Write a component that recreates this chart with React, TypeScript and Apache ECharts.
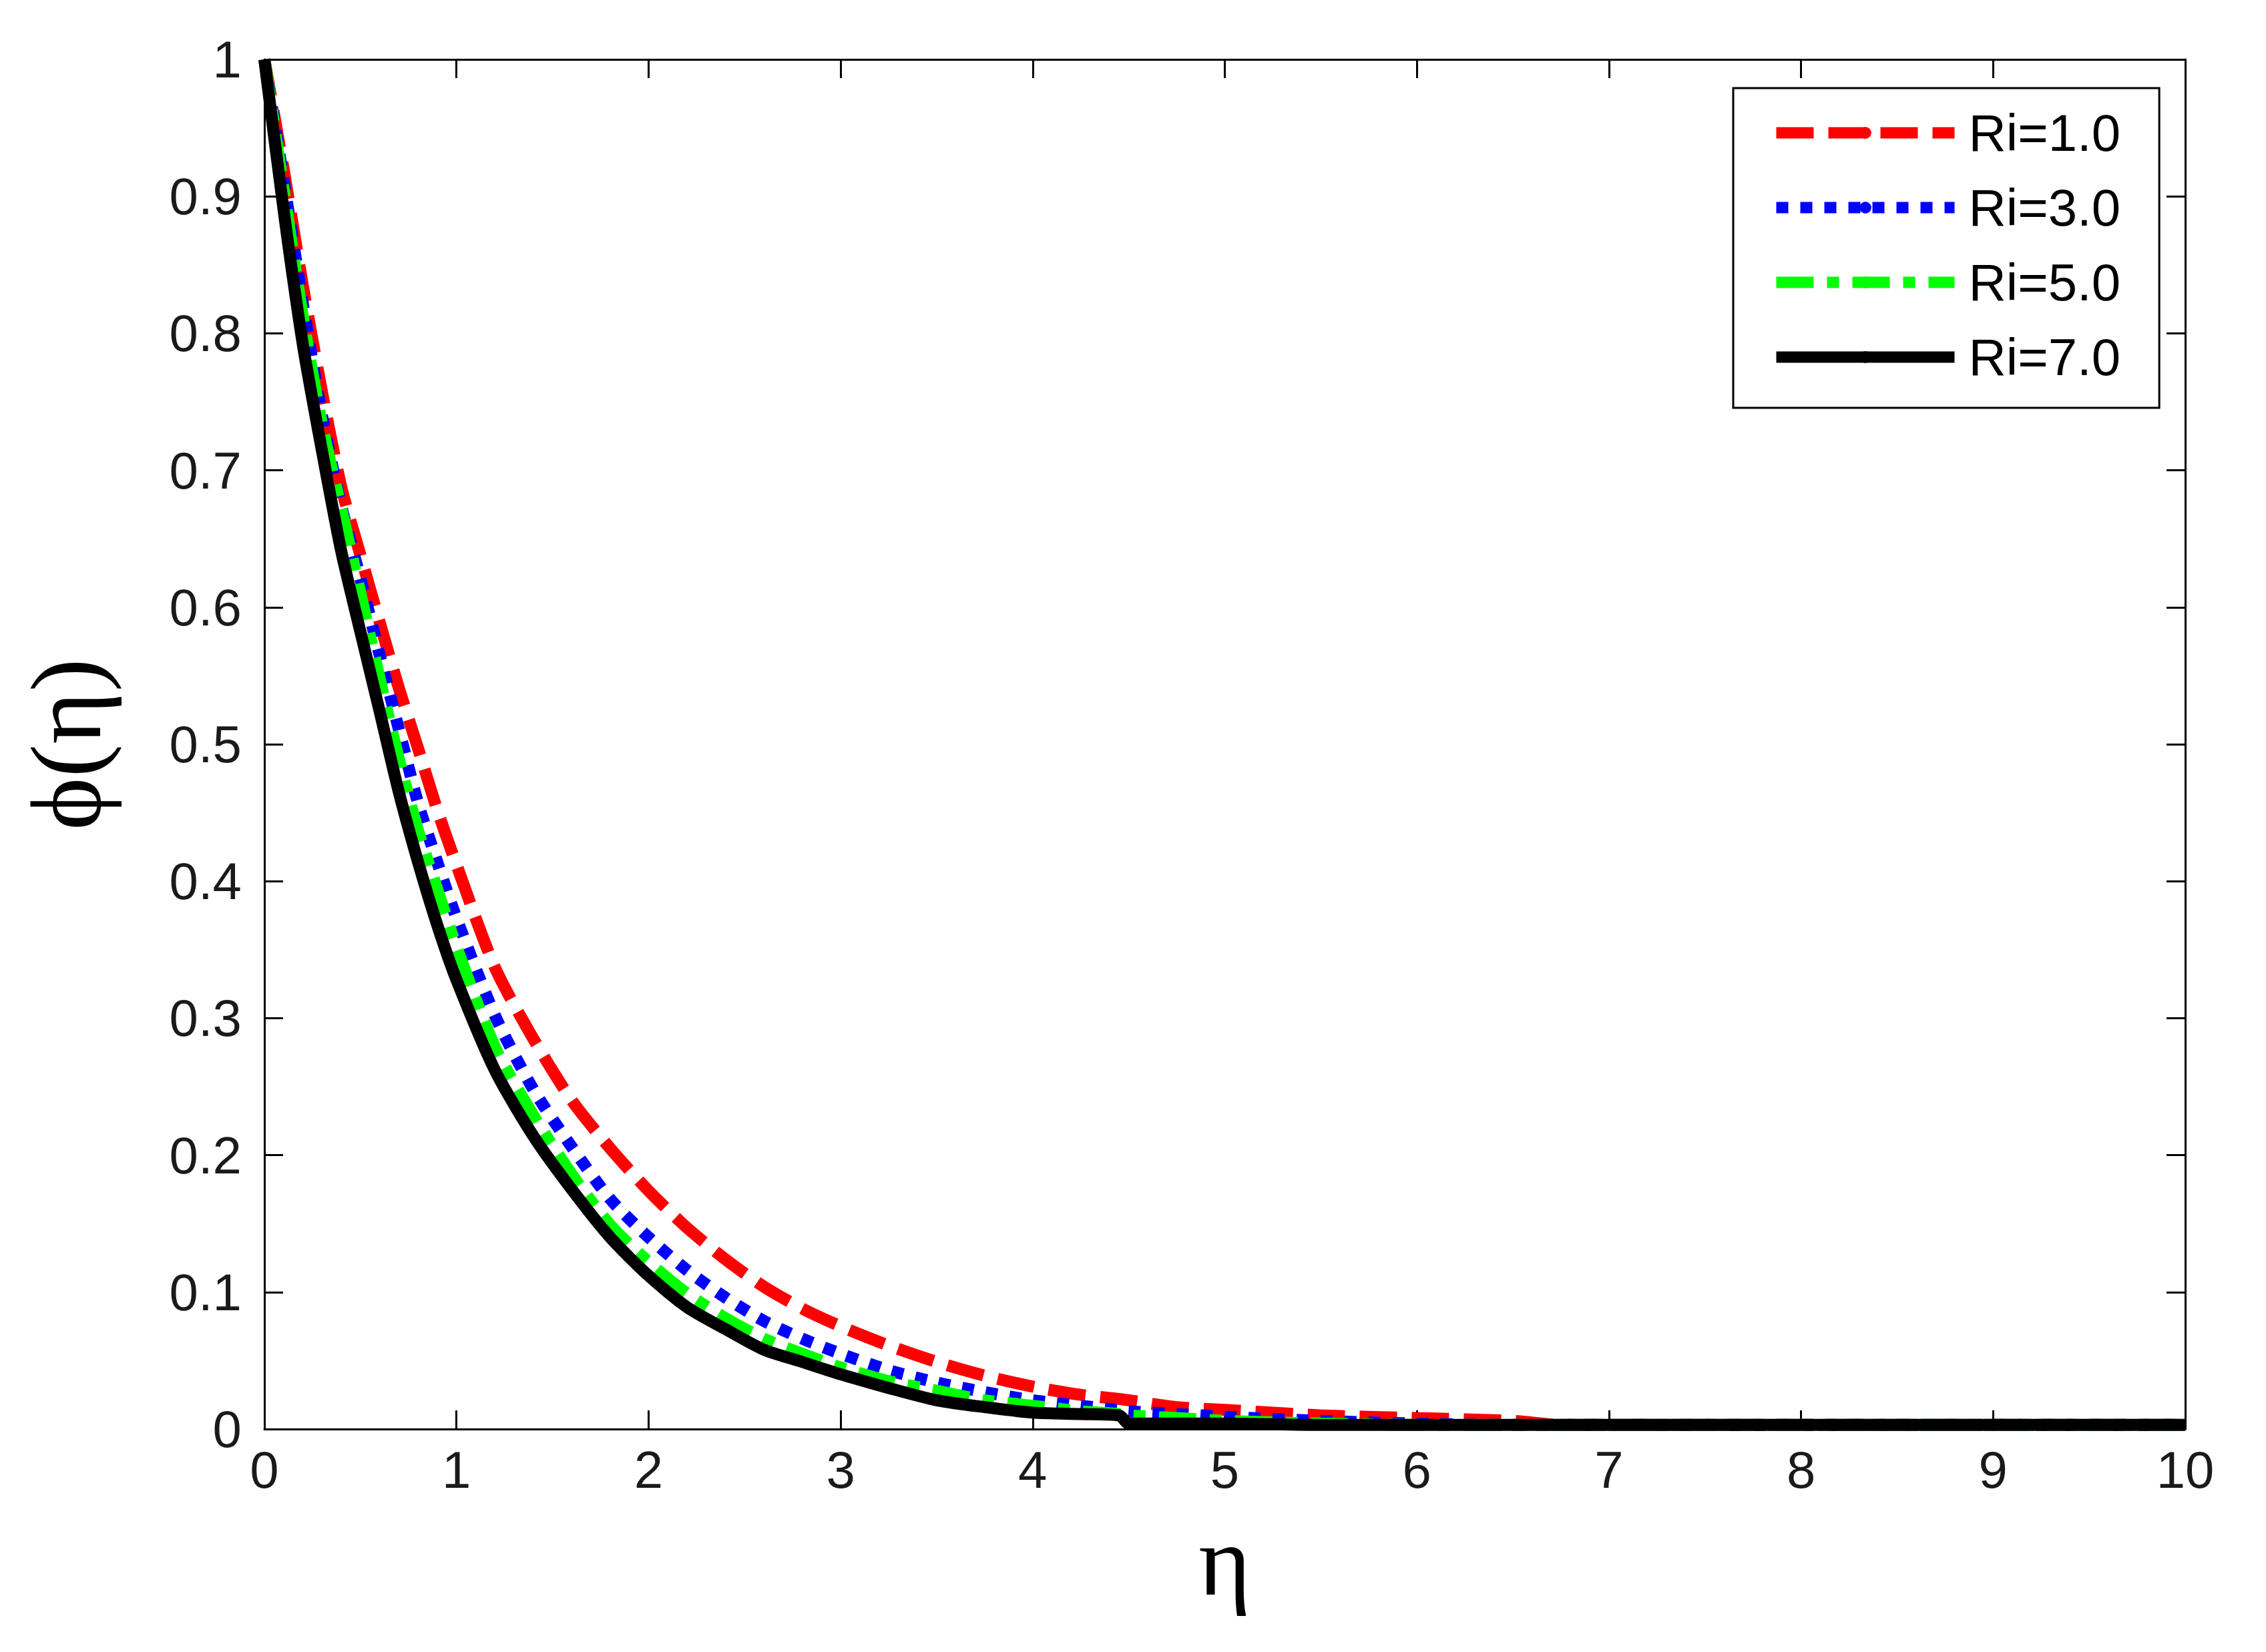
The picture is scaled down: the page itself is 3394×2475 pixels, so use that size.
import React, { useEffect, useRef } from "react";
import * as echarts from "echarts";

const eta = [0, 0.1, 0.2, 0.3, 0.4, 0.5, 0.6, 0.7, 0.8, 0.9, 1.0, 1.2, 1.4, 1.6, 1.8, 2.0, 2.2, 2.4, 2.6, 2.8, 3.0, 3.25, 3.5, 3.75, 4.0, 4.25, 4.45, 4.5, 4.75, 5.0, 5.5, 6.0, 6.5, 6.75, 7, 8, 9, 10];

const phiRi1 = [1.0, 0.92, 0.835, 0.757, 0.688, 0.638, 0.589, 0.541, 0.497, 0.452, 0.412, 0.337, 0.285, 0.24, 0.205, 0.174, 0.147, 0.124, 0.104, 0.088, 0.075, 0.061, 0.049, 0.039, 0.031, 0.025, 0.022, 0.021, 0.016, 0.014, 0.010, 0.008, 0.006, 0.003, 0.003, 0.003, 0.003, 0.003];
const phiRi3 = [1.0, 0.912, 0.822, 0.74, 0.674, 0.621, 0.565, 0.511, 0.457, 0.414, 0.373, 0.302, 0.248, 0.206, 0.168, 0.14, 0.116, 0.096, 0.079, 0.066, 0.055, 0.043, 0.034, 0.027, 0.021, 0.017, 0.014, 0.013, 0.011, 0.009, 0.006, 0.004, 0.003, 0.003, 0.003, 0.003, 0.003, 0.003];
const phiRi5 = [1.0, 0.905, 0.812, 0.733, 0.672, 0.61, 0.548, 0.489, 0.437, 0.394, 0.352, 0.279, 0.229, 0.186, 0.149, 0.122, 0.099, 0.081, 0.066, 0.055, 0.045, 0.035, 0.028, 0.021, 0.017, 0.013, 0.011, 0.010, 0.008, 0.006, 0.004, 0.003, 0.003, 0.003, 0.003, 0.003, 0.003, 0.003];
const phiRi7 = [1.0, 0.89, 0.792, 0.714, 0.641, 0.582, 0.524, 0.465, 0.414, 0.368, 0.328, 0.262, 0.214, 0.175, 0.14, 0.112, 0.089, 0.073, 0.058, 0.049, 0.040, 0.030, 0.021, 0.016, 0.012, 0.011, 0.010, 0.004, 0.004, 0.004, 0.003, 0.003, 0.003, 0.003, 0.003, 0.003, 0.003, 0.003];

const seriesNames = ["Ri=1.0", "Ri=3.0", "Ri=5.0", "Ri=7.0"];
const seriesColors = ["#ff0000", "#0000ff", "#00ff00", "#000000"];
const seriesDashes: any[] = [[56, 22], [18, 18], [56, 20, 18, 20], "solid"];
const seriesSymbols = ["circle", "circle", "circle", "none"];
const seriesValues = [phiRi1, phiRi3, phiRi5, phiRi7];

const xTitle = "η";
const yTitle = "ϕ(η)";

export default function App() {
  const ref = useRef<HTMLDivElement>(null);
  useEffect(() => {
    document.body.style.margin = "0";
    const chart = echarts.init(ref.current!, null, { renderer: "svg" });
    const axisLineStyle = { color: "#000", width: 3 };
    const tickStyle = { show: true, inside: true, length: 28, lineStyle: { color: "#000", width: 3 } };
    const labelStyle = { fontFamily: "Liberation Sans", fontSize: 78, color: "#1a1a1a" };
    chart.setOption({
      animation: false,
      backgroundColor: "#ffffff",
      grid: { left: 396, top: 89, right: 121, bottom: 334, containLabel: false },
      xAxis: [
        {
          type: "value", min: 0, max: 10, interval: 1, position: "bottom",
          axisLine: { show: true, onZero: false, lineStyle: axisLineStyle },
          axisTick: tickStyle,
          axisLabel: { ...labelStyle, margin: 22 },
          splitLine: { show: false },
          name: xTitle, nameLocation: "middle", nameGap: 122,
          nameTextStyle: { fontFamily: "Liberation Serif", fontSize: 150, color: "#000" },
        },
        {
          type: "value", min: 0, max: 10, interval: 1, position: "top",
          axisLine: { show: true, onZero: false, lineStyle: axisLineStyle },
          axisTick: tickStyle, axisLabel: { show: false }, splitLine: { show: false },
        },
      ],
      yAxis: [
        {
          type: "value", min: 0, max: 1, interval: 0.1, position: "left",
          axisLine: { show: true, onZero: false, lineStyle: axisLineStyle },
          axisTick: tickStyle,
          axisLabel: { ...labelStyle, margin: 34 },
          splitLine: { show: false },
          name: yTitle, nameLocation: "middle", nameGap: 222,
          nameTextStyle: { fontFamily: "Liberation Serif", fontSize: 150, color: "#000" },
        },
        {
          type: "value", min: 0, max: 1, interval: 0.1, position: "right",
          axisLine: { show: true, onZero: false, lineStyle: axisLineStyle },
          axisTick: tickStyle, axisLabel: { show: false }, splitLine: { show: false },
        },
      ],
      legend: {
        orient: "vertical", left: 2596, top: 132,
        padding: [27, 58, 36, 56],
        itemWidth: 267, itemHeight: 22, itemGap: 32,
        borderColor: "#000", borderWidth: 3, backgroundColor: "#fff",
        textStyle: { fontFamily: "Liberation Sans", fontSize: 78, color: "#000", lineHeight: 80, padding: [0, 0, 0, 16] },
        lineStyle: { width: 17 },
        itemStyle: { borderWidth: 0 },
        data: seriesNames,
      },
      series: seriesNames.map((name, k) => ({
        name, type: "line", xAxisIndex: 0, yAxisIndex: 0,
        data: eta.map((x, i) => [x, seriesValues[k][i]]),
        showSymbol: false, symbol: seriesSymbols[k], symbolSize: 18,
        itemStyle: { color: seriesColors[k] },
        lineStyle: { color: seriesColors[k], width: 18, type: seriesDashes[k], cap: "butt" },
        smooth: 0.25,
      })),
    });
    return () => chart.dispose();
  }, []);
  return <div ref={ref} style={{ width: 3394, height: 2475, background: "#fff" }} />;
}
